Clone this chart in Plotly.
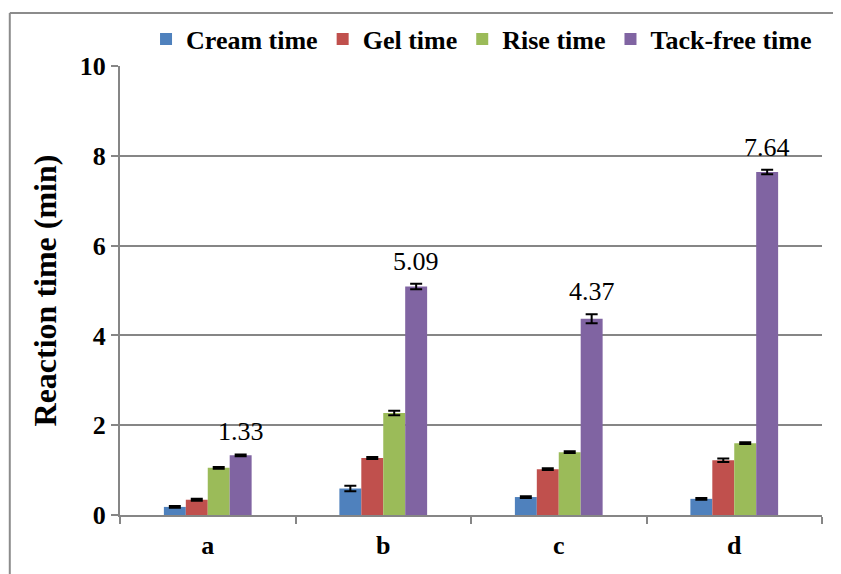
import plotly.graph_objects as go

categories = ["a", "b", "c", "d"]
series_names = ["Cream time", "Gel time", "Rise time", "Tack-free time"]
cream = [0.18, 0.59, 0.40, 0.36]
gel = [0.34, 1.27, 1.02, 1.22]
rise = [1.05, 2.27, 1.40, 1.60]
tack_free = [1.33, 5.09, 4.37, 7.64]
cream_err = [0.02, 0.06, 0.02, 0.02]
gel_err = [0.02, 0.02, 0.02, 0.04]
rise_err = [0.02, 0.05, 0.02, 0.02]
tack_err = [0.02, 0.06, 0.10, 0.05]
tack_labels = ["1.33", "5.09", "4.37", "7.64"]

colors = ["#4F81BD", "#C0504D", "#9BBB59", "#8064A2"]
values = [cream, gel, rise, tack_free]
errors = [cream_err, gel_err, rise_err, tack_err]

serif = "Liberation Serif"

fig = go.Figure()
for name, vals, errs, col in zip(series_names, values, errors, colors):
    fig.add_trace(go.Bar(
        x=categories, y=vals, name=name,
        marker=dict(color=col, line=dict(width=0)),
        error_y=dict(type="data", array=errs, visible=True, color="black",
                     thickness=2, width=6),
    ))

for cat, v, lab, e in zip(categories, tack_free, tack_labels, tack_err):
    fig.add_annotation(x=cat, y=v + e, text=lab, showarrow=False,
                       xref="x", yref="y", xshift=33, yshift=6, yanchor="bottom",
                       font=dict(family=serif, size=26, color="black"))

fig.update_layout(
    width=833, height=566,
    margin=dict(l=112, r=19, t=58, b=59, autoexpand=False),
    paper_bgcolor="white", plot_bgcolor="white",
    barmode="group", bargap=0.5, bargroupgap=0,
    legend=dict(orientation="h", x=0.515, xanchor="center",
                yref="container", y=0.945, yanchor="middle",
                font=dict(family=serif, size=26, color="black", weight="bold"),
                itemwidth=30, tracegroupgap=0, bgcolor="rgba(0,0,0,0)"),
    xaxis=dict(showline=True, linecolor="#868686", linewidth=2,
               ticks="outside", tickson="boundaries", ticklen=7, tickcolor="#868686", tickwidth=2,
               showgrid=False, ticklabelstandoff=6,
               tickfont=dict(family=serif, size=26, color="black", weight="bold")),
    yaxis=dict(range=[0, 10], dtick=2, showline=True, linecolor="#868686", linewidth=2,
               ticks="outside", ticklen=7, tickcolor="#868686", tickwidth=2,
               showgrid=True, gridcolor="#868686", gridwidth=1.5, zeroline=False,
               tickfont=dict(family=serif, size=26, color="black", weight="bold"),
               title=dict(text="Reaction time (min)", standoff=14,
                          font=dict(family=serif, size=32, color="black", weight="bold"))),
    showlegend=True,
)

# partial frame border (top and left)
fig.add_shape(type="line", xref="paper", yref="paper", x0=-0.157, x1=1.03, y0=1.118, y1=1.118,
              line=dict(color="#8c8c8c", width=2))
fig.add_shape(type="line", xref="paper", yref="paper", x0=-0.157, x1=-0.157, y0=1.118, y1=-0.14,
              line=dict(color="#8c8c8c", width=2))

fig.write_html("out.html")
